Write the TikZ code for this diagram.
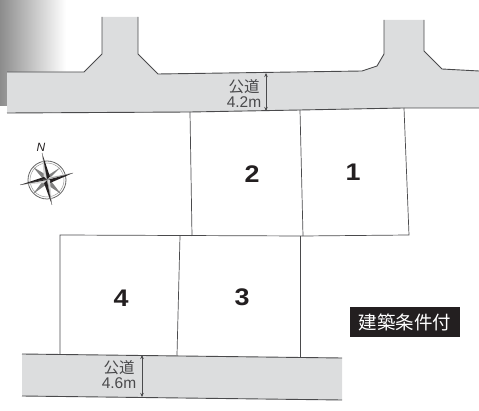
\documentclass[tikz,border=0pt]{standalone}
\usepackage{fontspec}
\setmainfont{Liberation Sans}
\newfontfamily\cjk{Noto Sans CJK JP}[Scale=1]
\usetikzlibrary{arrows.meta}
\definecolor{roadgrey}{HTML}{DCDDDE}
\definecolor{lineink}{HTML}{4A4A4C}
\definecolor{tagink}{HTML}{231F20}
\tikzset{
  road/.style={fill=roadgrey,draw=none},
  edgeline/.style={draw=lineink,line width=0.9pt,line join=miter},
  lotline/.style={draw=lineink,line width=0.7pt},
  lotnum/.style={font=\fontsize{24}{24}\selectfont\bfseries,text=tagink,inner sep=0pt,xscale=1.12},
  roadlabel/.style={font=\fontsize{15.5}{15}\selectfont,text=lineink,align=center,inner sep=0pt},
  dimline/.style={draw=lineink,line width=0.6pt,{Stealth[length=4pt,width=3.5pt]}-{Stealth[length=4pt,width=3.5pt]}},
  tag/.style={fill=tagink,text=white,font=\cjk\fontsize{18.5}{18.5}\selectfont,minimum width=110pt,minimum height=30pt,inner sep=0pt},
  compassline/.style={draw=black!60,line width=0.5pt}
}
\begin{document}
\begin{tikzpicture}[x=1pt,y=-1pt]
\useasboundingbox (0,0) rectangle (479,411);
% corner gradient
\shade[left color=black!45,right color=white] (0,0) rectangle (66,106);
% upper road
\fill[road] (7,72) -- (84,72) -- (102,54) -- (102,17) -- (138,17) -- (138,54) -- (158,74) -- (362,71) -- (377,66) -- (384,54) -- (384,20) -- (424,20) -- (424,51) -- (442,69) -- (479,71) -- (479,108) -- (403,108) -- (300,110) -- (190,112) -- (7,113) -- cycle;
\draw[edgeline] (7,72) -- (84,72) -- (102,54) -- (102,17);
\draw[edgeline] (138,17) -- (138,54) -- (158,74) -- (362,71) -- (377,66) -- (384,54) -- (384,20);
\draw[edgeline] (424,20) -- (424,51) -- (442,69) -- (479,71);
\draw[edgeline] (7,113) -- (190,112) -- (300,110) -- (403,108) -- (479,108);
% lower road
\fill[road] (22,354) -- (342,358) -- (342,400) -- (22,396) -- cycle;
\draw[edgeline] (22,354) -- (342,358);
\draw[edgeline] (22,396) -- (342,400);
% lots
\draw[lotline] (190,112) -- (192,236);
\draw[lotline] (300,110) -- (303,236);
\draw[lotline] (404,108) -- (409,235) -- (303,236) -- (60,235) -- (60,354);
\draw[lotline] (180,236) -- (177,355);
\draw[lotline] (300,236) -- (300,357);
% numbers
\node[lotnum] (lotone) at (353,172) {1};
\node[lotnum] (lottwo) at (252,174) {2};
\node[lotnum] (lotthree) at (242,297) {3};
\node[lotnum] (lotfour) at (121,298) {4};
% road labels
\node[roadlabel] (upperlabel) at (244,93) {{\cjk 公道}\\4.2m};
\node[roadlabel] (lowerlabel) at (119,375) {{\cjk 公道}\\4.6m};
\coordinate (uppertop) at (266,73);
\coordinate (upperbot) at (266,111);
\coordinate (lowertop) at (142,355);
\coordinate (lowerbot) at (142,397);
\draw[dimline] (uppertop) -- (upperbot);
\draw[dimline] (lowertop) -- (lowerbot);
% tag
\node[tag] (condtag) at (405,322) {建築条件付};
% compass
\coordinate (cc) at (47,180);
\draw[compassline,line width=0.8pt] (cc) circle (19);
\draw[compassline,draw=black!40] (cc) circle (17);
% diagonal points
\fill[black!50] (61,167) -- (51,177) -- (47,176) -- cycle;
\fill[black!50] (33,167) -- (48,176) -- (43,179) -- cycle;
\fill[black!50] (61,194) -- (46,184) -- (51,181) -- cycle;
\fill[black!50] (33,194) -- (43,181) -- (47,184) -- cycle;
% main points
\fill[tagink] (42,153) -- (50,177) -- (47,180) -- cycle;
\fill[black!15] (42,153) -- (44,180) -- (47,180) -- cycle;
\fill[black!15] (73,173) -- (50,177) -- (47,180) -- cycle;
\fill[tagink] (73,173) -- (50,183) -- (47,180) -- cycle;
\fill[tagink] (52,205) -- (44,183) -- (47,180) -- cycle;
\fill[black!15] (52,205) -- (50,180) -- (47,180) -- cycle;
\fill[black!15] (20,185) -- (44,183) -- (47,180) -- cycle;
\fill[tagink] (20,185) -- (44,177) -- (47,180) -- cycle;
\draw[compassline,line width=0.3pt] (42,153) -- (52,205) (73,173) -- (20,185);
\node[font=\itshape\fontsize{12}{12}\selectfont,text=tagink,inner sep=0pt] (north) at (41,147) {N};
\end{tikzpicture}
\end{document}
